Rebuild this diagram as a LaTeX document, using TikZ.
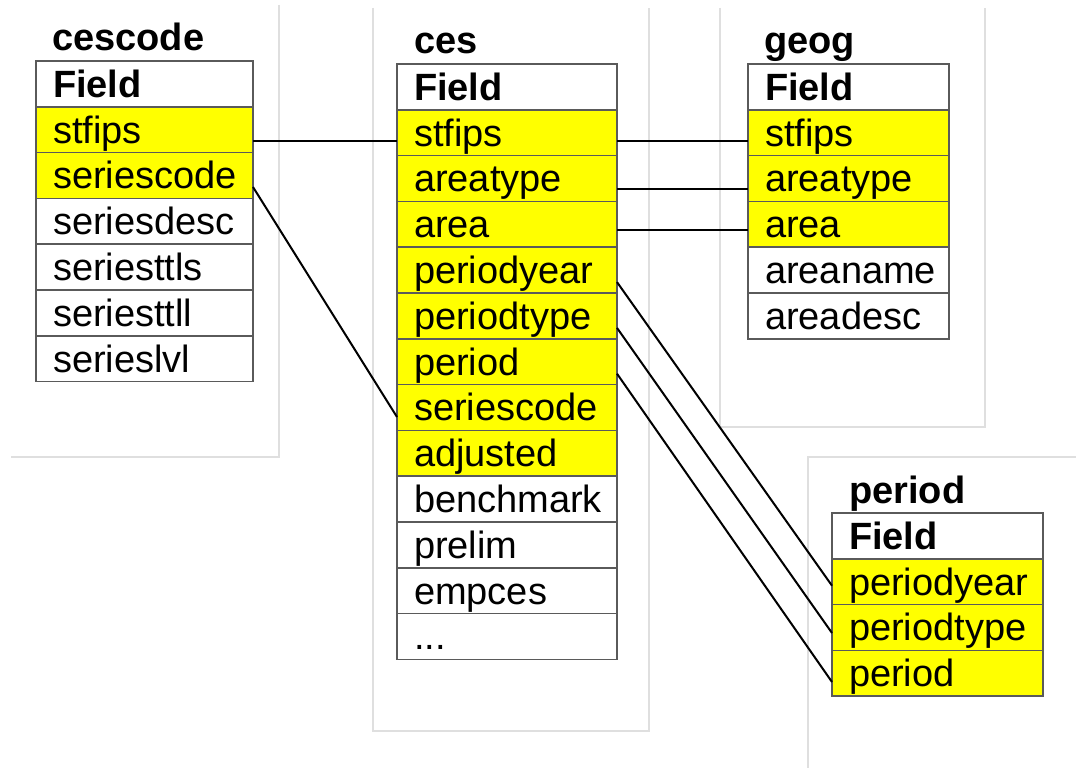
\documentclass[tikz,border=0pt]{standalone}
\usepackage{fontspec}
\setmainfont{Liberation Sans}

\definecolor{keyyellow}{HTML}{FFFF00}
\definecolor{rowline}{HTML}{5A5A5A}
\definecolor{panelgray}{HTML}{DFDFDF}

\tikzset{
  row/.style={rectangle, draw=rowline, line width=1.5pt, anchor=north west,
    inner xsep=17pt, inner ysep=0pt, outer sep=0pt,
    text height=36.3pt, text depth=9.5pt, align=left,
    font=\fontsize{38}{44}\selectfont},
  plain/.style={row, fill=white},
  key/.style={row, fill=keyyellow},
  head/.style={row, fill=white, font=\fontsize{38}{44}\selectfont\bfseries},
  tabname/.style={anchor=base west, inner sep=0pt,
    font=\fontsize{38}{44}\selectfont\bfseries},
  link/.style={black, line width=2pt},
  panelline/.style={panelgray, line width=2pt}
}

\begin{document}
\begin{tikzpicture}[x=1pt, y=-1pt]
\useasboundingbox (0,0) rectangle (1076,768);

% background panels
\draw[panelline] (279,5) -- (279,457) -- (11,457);
\draw[panelline] (373,8) -- (373,731) -- (649,731) -- (649,8);
\draw[panelline] (720,8) -- (720,427) -- (985,427) -- (985,8);
\draw[panelline] (808,768) -- (808,457) -- (1076,457);

% table names
\draw (52,51) node(cescode) [tabname] {cescode};
\draw (414,54) node(ces) [tabname] {ces};
\draw (764,54) node(geog) [tabname] {geog};
\draw (849,503) node(period) [tabname] {period};

% cescode
\begin{scope}[every node/.append style={text width=183pt}]
\draw (36,61) node(cescode-field) [head] {Field};
\draw (36,106.8) node(cescode-stfips) [key] {stfips};
\draw (36,152.6) node(cescode-seriescode) [key] {seriescode};
\draw (36,198.4) node(cescode-seriesdesc) [plain] {seriesdesc};
\draw (36,244.2) node(cescode-seriesttls) [plain] {seriesttls};
\draw (36,290) node(cescode-seriesttll) [plain] {seriesttll};
\draw (36,335.8) node(cescode-serieslvl) [plain] {serieslvl};
\end{scope}

% ces
\begin{scope}[every node/.append style={text width=186pt}]
\draw (397,64) node(ces-field) [head] {Field};
\draw (397,109.8) node(ces-stfips) [key] {stfips};
\draw (397,155.6) node(ces-areatype) [key] {areatype};
\draw (397,201.4) node(ces-area) [key] {area};
\draw (397,247.2) node(ces-periodyear) [key] {periodyear};
\draw (397,293) node(ces-periodtype) [key] {periodtype};
\draw (397,338.8) node(ces-period) [key] {period};
\draw (397,384.6) node(ces-seriescode) [key] {seriescode};
\draw (397,430.4) node(ces-adjusted) [key] {adjusted};
\draw (397,476.2) node(ces-benchmark) [plain] {benchmark};
\draw (397,522) node(ces-prelim) [plain] {prelim};
\draw (397,567.8) node(ces-empces) [plain] {empces};
\draw (397,613.6) node(ces-more) [plain] {...};
\end{scope}

% geog
\begin{scope}[every node/.append style={text width=167pt}]
\draw (748,64) node(geog-field) [head] {Field};
\draw (748,109.8) node(geog-stfips) [key] {stfips};
\draw (748,155.6) node(geog-areatype) [key] {areatype};
\draw (748,201.4) node(geog-area) [key] {area};
\draw (748,247.2) node(geog-areaname) [plain] {areaname};
\draw (748,293) node(geog-areadesc) [plain] {areadesc};
\end{scope}

% period
\begin{scope}[every node/.append style={text width=177pt}]
\draw (832,513) node(period-field) [head] {Field};
\draw (832,558.8) node(period-periodyear) [key] {periodyear};
\draw (832,604.6) node(period-periodtype) [key] {periodtype};
\draw (832,650.4) node(period-period) [key] {period};
\end{scope}

% joins
\draw[link] ([yshift=-11pt]cescode-stfips.east) -- ([yshift=-8pt]ces-stfips.west);
\draw[link] ([yshift=-11.5pt]cescode-seriescode.east) -- ([yshift=-9.5pt]ces-seriescode.west);
\draw[link] ([yshift=-8pt]ces-stfips.east) -- ([yshift=-8pt]geog-stfips.west);
\draw[link] ([yshift=-10pt]ces-areatype.east) -- ([yshift=-10pt]geog-areatype.west);
\draw[link] ([yshift=-6pt]ces-area.east) -- ([yshift=-6pt]geog-area.west);
\draw[link] ([yshift=-12pt]ces-periodyear.east) -- ([yshift=-4pt]period-periodyear.west);
\draw[link] ([yshift=-12pt]ces-periodtype.east) -- ([yshift=-5.5pt]period-periodtype.west);
\draw[link] ([yshift=-12pt]ces-period.east) -- ([yshift=-8.7pt]period-period.west);
\end{tikzpicture}
\end{document}
